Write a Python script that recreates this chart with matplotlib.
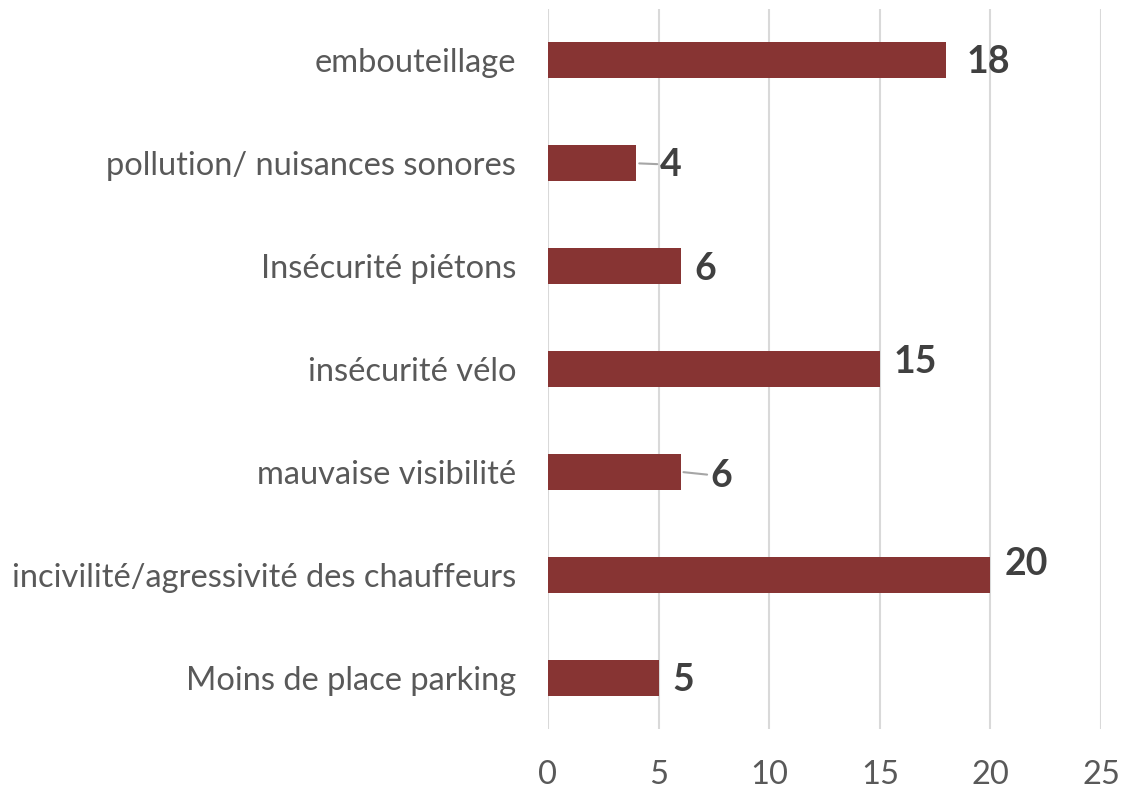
import matplotlib
matplotlib.use('Agg')
import matplotlib.pyplot as plt

plt.rcParams['font.family'] = ['Lato', 'DejaVu Sans']

# Données
categories = ['Moins de place parking',
              'incivilité/agressivité des chauffeurs',
              'mauvaise visibilité',
              'insécurité vélo',
              'Insécurité piétons',
              'pollution/ nuisances sonores',
              'embouteillage']
valeurs = [5, 20, 6, 15, 6, 4, 18]
ticks_x = [0, 5, 10, 15, 20, 25]

# décalage des étiquettes (points) et trait de rappel
decalages = [(10, -2), (10, 8), (21, -3), (10, 5), (10, -2), (17, -1), (15, -1)]
rappel = [False, False, True, False, False, True, False]

fig = plt.figure(figsize=(11.22, 7.9), dpi=100)
ax = fig.add_axes([0.4884, 0.0772, 0.4929, 0.9114])

y = list(range(len(categories)))
ax.barh(y, valeurs, height=0.35, color='#873433', zorder=3)

for yi, v, (dx, dy), r in zip(y, valeurs, decalages, rappel):
    props = dict(arrowstyle='-', color='#a6a6a6', lw=1.5, shrinkA=0, shrinkB=2) if r else None
    ax.annotate(str(v), xy=(v, yi), xytext=(dx, dy), textcoords='offset points',
                ha='left', va='center', fontsize=27, fontweight='bold', color='#404040',
                arrowprops=props)

ax.set_xlim(0, 25)
ax.set_ylim(-0.5, len(categories) - 0.5)
ax.set_xticks(ticks_x)
ax.set_yticks(y)
ax.set_yticklabels(categories)
ax.grid(axis='x', color='#d9d9d9', lw=1.5, zorder=0)
for s in ax.spines.values():
    s.set_visible(False)
ax.tick_params(axis='both', length=0, labelsize=23.5, labelcolor='#595959')
ax.tick_params(axis='x', pad=22)
ax.tick_params(axis='y', pad=23)

fig.savefig('out.png', dpi=100)
